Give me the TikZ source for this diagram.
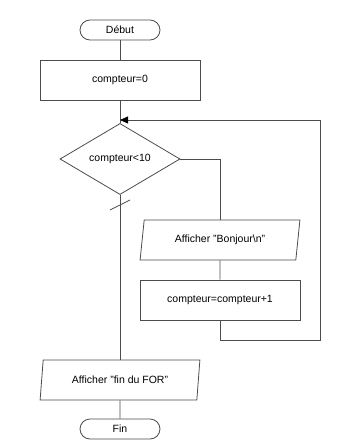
\documentclass[tikz,border=0pt]{standalone}
\usepackage{fontspec}
\setmainfont{Liberation Sans}
\usetikzlibrary{shapes.geometric,arrows.meta}

\tikzset{
  lien/.style={draw=black!70,line width=0.8pt},
  terminal/.style={lien,fill=white,rectangle,rounded corners=10pt,minimum width=80pt,minimum height=20pt,inner sep=0pt},
  instr/.style={lien,fill=white,rectangle,minimum width=160pt,minimum height=40pt,inner sep=0pt},
  es/.style={lien,fill=white,trapezium,trapezium left angle=76,trapezium right angle=104,trapezium stretches=true,minimum width=160pt,minimum height=40pt,inner sep=0pt},
  test/.style={lien,fill=white,diamond,minimum width=120pt,minimum height=60pt,inner sep=0pt}
}

\begin{document}
\begin{tikzpicture}[x=1pt,y=-1pt,font=\fontsize{10.5}{12}\selectfont]
    \useasboundingbox (0,0) rectangle (341,441);

    % Boxes
    \node[terminal] (debut) at (120,30) {Début};
    \node[instr] (init) at (120,80) {compteur=0};
    \node[test] (cond) at (120,159) {compteur<10};
    \node[es] (bonjour) at (220,240) {Afficher "Bonjour\textbackslash n"};
    \node[instr] (incr) at (220,300) {compteur=compteur+1};
    \node[es] (finfor) at (120,380) {Afficher "fin du FOR"};
    \node[terminal] (fin) at (120,429) {Fin};

    % Loop points
    \coordinate (entree) at (120,120);
    \coordinate (retour) at (320,340);

    % Main line
    \draw[lien] (debut) -- (init);
    \draw[lien] (init) -- (cond);
    \draw[lien] (cond) -- (finfor);
    \draw[lien] (finfor) -- (fin);

    % Body of the loop
    \draw[lien] (cond.east) -| (bonjour.north);
    \draw[lien] (bonjour) -- (incr);
    \draw[lien,-{Triangle[length=8pt,width=7pt,color=black,fill=black]}] (incr.south) |- (retour) |- (entree);

    % Exit mark
    \draw[black!70,line width=0.8pt] (cond.south) ++(-10,15) -- ++(20,-10);
\end{tikzpicture}
\end{document}
